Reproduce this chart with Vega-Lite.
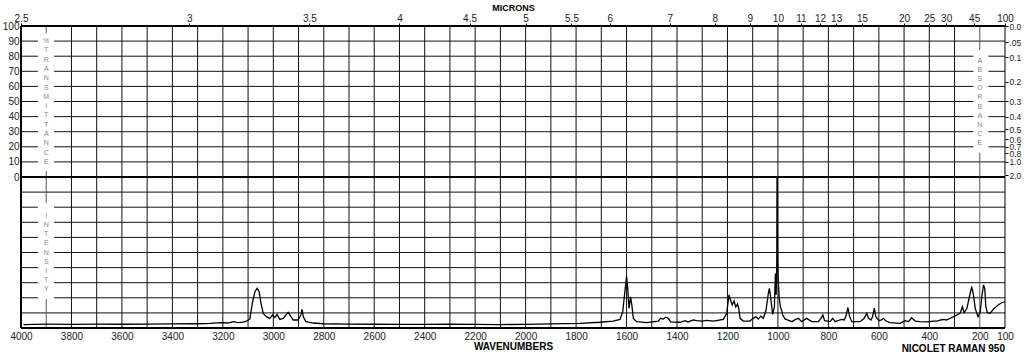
{
  "$schema": "https://vega.github.io/schema/vega-lite/v6.json",
  "width": 984,
  "height": 302,
  "autosize": {"type": "none"},
  "padding": {"left": 21, "top": 26, "right": 19, "bottom": 28},
  "config": {
    "view": {"stroke": null},
    "axis": {"labelFont": "Liberation Sans", "titleFont": "Liberation Sans", "labelColor": "#222", "titleColor": "#000"},
    "text": {"font": "Liberation Sans"},
    "title": {"font": "Liberation Sans"}
  },
  "title": {"text": "NICOLET RAMAN 950", "orient": "bottom", "anchor": "end", "frame": "group", "fontSize": 10, "fontWeight": "bold", "color": "#000", "offset": -7},
  "datasets": {
    "vgrid": [{"wn":3800},{"wn":3700},{"wn":3600},{"wn":3500},{"wn":3400},{"wn":3300},{"wn":3200},{"wn":3100},{"wn":3000},{"wn":2900},{"wn":2800},{"wn":2700},{"wn":2600},{"wn":2500},{"wn":2400},{"wn":2300},{"wn":2200},{"wn":2100},{"wn":2000},{"wn":1900},{"wn":1800},{"wn":1700},{"wn":1600},{"wn":1500},{"wn":1400},{"wn":1300},{"wn":1200},{"wn":1100},{"wn":1000},{"wn":900},{"wn":800},{"wn":700},{"wn":600},{"wn":500},{"wn":400},{"wn":300}],
    "hgrid": [{"v":90},{"v":80},{"v":70},{"v":60},{"v":50},{"v":40},{"v":30},{"v":20},{"v":10},{"v":-10},{"v":-20},{"v":-30},{"v":-40},{"v":-50},{"v":-60},{"v":-70},{"v":-80},{"v":-90}],
    "gaps": [
      {"wn1":3933,"wn2":3869,"v1":95.2,"v2":4},
      {"wn1":3933,"wn2":3869,"v1":-17.4,"v2":-80.8},
      {"wn1":225,"wn2":166,"v1":84.1,"v2":16.1}
    ],
    "segs": [
      {"wn":3900,"v1":100,"v2":95.2},
      {"wn":3900,"v1":4,"v2":-17.4},
      {"wn":3900,"v1":-80.8,"v2":-100},
      {"wn":200,"v1":100,"v2":84.1},
      {"wn":200,"v1":16.1,"v2":-100}
    ],
    "letters": [
      {"ch":"%","wn":3900,"v":90},{"ch":"T","wn":3900,"v":83.8},{"ch":"R","wn":3900,"v":77.7},{"ch":"A","wn":3900,"v":71.5},{"ch":"N","wn":3900,"v":65.4},{"ch":"S","wn":3900,"v":59.2},{"ch":"M","wn":3900,"v":53.1},{"ch":"I","wn":3900,"v":46.9},{"ch":"T","wn":3900,"v":40.8},{"ch":"T","wn":3900,"v":34.6},{"ch":"A","wn":3900,"v":28.5},{"ch":"N","wn":3900,"v":22.3},{"ch":"C","wn":3900,"v":16.2},{"ch":"E","wn":3900,"v":10},
      {"ch":"I","wn":3900,"v":-25.8},{"ch":"N","wn":3900,"v":-31.9},{"ch":"T","wn":3900,"v":-37.9},{"ch":"E","wn":3900,"v":-44},{"ch":"N","wn":3900,"v":-50},{"ch":"S","wn":3900,"v":-56.1},{"ch":"I","wn":3900,"v":-62.1},{"ch":"T","wn":3900,"v":-68.2},{"ch":"Y","wn":3900,"v":-74.2},
      {"ch":"A","wn":200,"v":76.8},{"ch":"B","wn":200,"v":70.8},{"ch":"S","wn":200,"v":64.7},{"ch":"O","wn":200,"v":58.7},{"ch":"R","wn":200,"v":52.7},{"ch":"B","wn":200,"v":46.6},{"ch":"A","wn":200,"v":40.6},{"ch":"N","wn":200,"v":34.6},{"ch":"C","wn":200,"v":28.5},{"ch":"E","wn":200,"v":22.5}
    ],
    "vthick": [{"wn":4000}],
    "vthin": [{"wn":100}],
    "hthick": [{"v":100},{"v":0},{"v":-100}],
    "spectrum": [
      {"wn":3990,"i":2.3},{"wn":3900,"i":2.5},{"wn":3800,"i":2.4},{"wn":3700,"i":2.6},{"wn":3600,"i":2.5},{"wn":3500,"i":2.6},{"wn":3400,"i":2.7},{"wn":3300,"i":2.8},{"wn":3250,"i":3.0},{"wn":3205,"i":3.5},{"wn":3180,"i":3.3},{"wn":3159,"i":4.2},{"wn":3140,"i":3.6},{"wn":3120,"i":3.9},{"wn":3106,"i":4.5},{"wn":3093,"i":6},{"wn":3083,"i":16.4},{"wn":3073,"i":24},{"wn":3064,"i":26.3},{"wn":3056,"i":24},{"wn":3050,"i":17.4},{"wn":3040,"i":9.7},{"wn":3027,"i":7.5},{"wn":3014,"i":6.4},{"wn":3003,"i":8.6},{"wn":2994,"i":7},{"wn":2985,"i":9},{"wn":2974,"i":5.7},{"wn":2961,"i":6.4},{"wn":2950,"i":8.6},{"wn":2941,"i":10.4},{"wn":2932,"i":8},{"wn":2921,"i":5.3},{"wn":2902,"i":5.3},{"wn":2891,"i":8.6},{"wn":2886,"i":12.4},{"wn":2881,"i":7.5},{"wn":2871,"i":4.2},{"wn":2842,"i":3.3},{"wn":2800,"i":2.8},{"wn":2700,"i":2.6},{"wn":2600,"i":2.5},{"wn":2500,"i":2.4},{"wn":2400,"i":2.4},{"wn":2300,"i":2.5},{"wn":2200,"i":2.4},{"wn":2100,"i":2.3},{"wn":2000,"i":2.4},{"wn":1900,"i":2.7},{"wn":1785,"i":3.1},{"wn":1706,"i":3.8},{"wn":1653,"i":4.6},{"wn":1626,"i":5.7},{"wn":1615,"i":10.8},{"wn":1606,"i":25},{"wn":1600,"i":34},{"wn":1596,"i":27.4},{"wn":1590,"i":13},{"wn":1584,"i":20.7},{"wn":1579,"i":15.2},{"wn":1573,"i":6.4},{"wn":1560,"i":4.2},{"wn":1520,"i":3.5},{"wn":1474,"i":4.6},{"wn":1465,"i":6.4},{"wn":1455,"i":5.9},{"wn":1444,"i":7.1},{"wn":1435,"i":6.4},{"wn":1425,"i":4},{"wn":1388,"i":3.8},{"wn":1368,"i":4.9},{"wn":1356,"i":4},{"wn":1335,"i":5.3},{"wn":1322,"i":4.9},{"wn":1302,"i":4.6},{"wn":1282,"i":5},{"wn":1256,"i":4.6},{"wn":1216,"i":5.7},{"wn":1203,"i":9.7},{"wn":1194,"i":21.9},{"wn":1188,"i":18.5},{"wn":1181,"i":15.2},{"wn":1174,"i":17.9},{"wn":1167,"i":14},{"wn":1160,"i":15.9},{"wn":1155,"i":12.6},{"wn":1150,"i":6.4},{"wn":1137,"i":4.6},{"wn":1111,"i":4.6},{"wn":1098,"i":6.4},{"wn":1087,"i":7.5},{"wn":1078,"i":5.9},{"wn":1068,"i":7.9},{"wn":1058,"i":6.4},{"wn":1047,"i":11.9},{"wn":1038,"i":23},{"wn":1034,"i":26.3},{"wn":1030,"i":22},{"wn":1021,"i":9},{"wn":1014,"i":14},{"wn":1010,"i":36},{"wn":1007,"i":22},{"wn":1004.5,"i":45},{"wn":1003.6,"i":100},{"wn":1002.9,"i":54},{"wn":1002.2,"i":100},{"wn":1001.2,"i":50},{"wn":999,"i":33},{"wn":995,"i":20},{"wn":990,"i":14},{"wn":986,"i":12},{"wn":981,"i":8.6},{"wn":972,"i":6},{"wn":965,"i":5.5},{"wn":945,"i":4.2},{"wn":932,"i":5.5},{"wn":919,"i":6.4},{"wn":906,"i":4.2},{"wn":886,"i":6.4},{"wn":866,"i":4.2},{"wn":840,"i":4.2},{"wn":829,"i":6.4},{"wn":822,"i":8.6},{"wn":815,"i":4.9},{"wn":793,"i":4.2},{"wn":783,"i":6.4},{"wn":773,"i":4.2},{"wn":756,"i":5.3},{"wn":747,"i":5.7},{"wn":737,"i":5.3},{"wn":729,"i":8.6},{"wn":723,"i":13.7},{"wn":716,"i":7.5},{"wn":707,"i":4.2},{"wn":674,"i":4.2},{"wn":658,"i":6.4},{"wn":648,"i":9.7},{"wn":641,"i":6.4},{"wn":631,"i":5.3},{"wn":625,"i":7.5},{"wn":618,"i":13.2},{"wn":612,"i":7.5},{"wn":600,"i":4.9},{"wn":589,"i":5.3},{"wn":582,"i":6.4},{"wn":572,"i":4.6},{"wn":556,"i":3.5},{"wn":516,"i":3.1},{"wn":496,"i":4.9},{"wn":483,"i":4.2},{"wn":470,"i":6.8},{"wn":456,"i":4.6},{"wn":437,"i":4.2},{"wn":410,"i":4},{"wn":384,"i":4.6},{"wn":369,"i":4.5},{"wn":355,"i":5.3},{"wn":342,"i":5.7},{"wn":332,"i":5.3},{"wn":304,"i":7.5},{"wn":291,"i":8.6},{"wn":278,"i":9.7},{"wn":269,"i":14.1},{"wn":262,"i":10.1},{"wn":251,"i":13},{"wn":241,"i":20.7},{"wn":232,"i":27.4},{"wn":225,"i":21.9},{"wn":218,"i":13},{"wn":207,"i":7.5},{"wn":198,"i":10.8},{"wn":192,"i":20.7},{"wn":185,"i":28.5},{"wn":180,"i":26},{"wn":176,"i":14.1},{"wn":170,"i":10.1},{"wn":159,"i":9.7},{"wn":146,"i":12.4},{"wn":132,"i":14.6},{"wn":117,"i":16.4},{"wn":100,"i":17.4}
    ]
  },
  "layer": [
    {
      "layer": [
        {
          "data": {"name": "hgrid"},
          "mark": {"type": "rule", "stroke": "#111", "strokeWidth": 1},
          "encoding": {
            "y": {"field": "v", "type": "quantitative", "scale": {"domain": [-100, 100], "nice": false, "zero": false},
              "axis": {"orient": "right", "title": null, "grid": false, "domain": false,
                "values": [100, 89.125, 79.433, 63.096, 50.119, 39.811, 31.623, 25.119, 19.953, 15.849, 10, 1],
                "labelExpr": "datum.value > 99 ? '0.0' : (datum.value > 85 ? '.05' : format(-log(datum.value/100)/LN10, '.1f'))",
                "tickSize": 3, "tickColor": "#000", "labelPadding": 1, "labelFontSize": 8.5, "labelOverlap": false, "labelBound": false, "labelFlush": false}}
          }
        },
        {
          "data": {"name": "vgrid"},
          "mark": {"type": "rule", "stroke": "#111", "strokeWidth": 1},
          "encoding": {
            "x": {"field": "wn", "type": "quantitative", "scale": {"domain": [100, 4000], "reverse": true, "nice": false, "zero": false},
              "axis": {"orient": "bottom", "title": "WAVENUMBERS", "titleFontSize": 10, "titleFontWeight": "bold", "titlePadding": 0,
                "grid": false, "domain": false, "ticks": false, "labelPadding": 3, "labelFontSize": 10, "format": "d",
                "values": [4000, 3800, 3600, 3400, 3200, 3000, 2800, 2600, 2400, 2200, 2000, 1800, 1600, 1400, 1200, 1000, 800, 600, 400, 200, 100],
                "labelOverlap": false, "labelFlush": false, "labelBound": false}}
          }
        },
        {
          "data": {"name": "gaps"},
          "mark": {"type": "rect", "fill": "#ffffff"},
          "encoding": {
            "x": {"field": "wn1", "type": "quantitative", "scale": {"domain": [100, 4000], "reverse": true, "nice": false, "zero": false}, "axis": null},
            "x2": {"field": "wn2"},
            "y": {"field": "v1", "type": "quantitative", "scale": {"domain": [-100, 100], "nice": false, "zero": false}, "axis": null},
            "y2": {"field": "v2"}
          }
        },
        {
          "data": {"name": "segs"},
          "mark": {"type": "rule", "stroke": "#555", "strokeWidth": 1},
          "encoding": {
            "x": {"field": "wn", "type": "quantitative", "scale": {"domain": [100, 4000], "reverse": true, "nice": false, "zero": false}, "axis": null},
            "y": {"field": "v1", "type": "quantitative", "scale": {"domain": [-100, 100], "nice": false, "zero": false}, "axis": null},
            "y2": {"field": "v2"}
          }
        },
        {
          "data": {"name": "letters"},
          "mark": {"type": "text", "fontSize": 7, "fill": "#888", "align": "center", "baseline": "middle"},
          "encoding": {
            "x": {"field": "wn", "type": "quantitative", "scale": {"domain": [100, 4000], "reverse": true, "nice": false, "zero": false}, "axis": null},
            "y": {"field": "v", "type": "quantitative", "scale": {"domain": [-100, 100], "nice": false, "zero": false}, "axis": null},
            "text": {"field": "ch"}
          }
        },
        {
          "data": {"name": "vthick"},
          "mark": {"type": "rule", "stroke": "#000", "strokeWidth": 2},
          "encoding": {
            "x": {"field": "wn", "type": "quantitative", "scale": {"domain": [100, 4000], "reverse": true, "nice": false, "zero": false},
              "axis": {"orient": "top", "title": "MICRONS", "titleFontSize": 9, "titleFontWeight": "bold", "titlePadding": 1,
                "grid": false, "domain": false, "tickSize": 3, "tickColor": "#000", "labelPadding": 0, "labelFontSize": 10,
                "values": [4000, 3333.3333, 2857.1429, 2500, 2222.2222, 2000, 1818.1818, 1666.6667, 1428.5714, 1250, 1111.1111, 1000, 909.0909, 833.3333, 769.2308, 666.6667, 500, 400, 333.3333, 222.2222, 100],
                "labelExpr": "'' + round(100000/datum.value)/10",
                "labelOverlap": false, "labelFlush": false, "labelBound": false}}
          }
        },
        {
          "data": {"name": "vthin"},
          "mark": {"type": "rule", "stroke": "#000", "strokeWidth": 1},
          "encoding": {
            "x": {"field": "wn", "type": "quantitative", "scale": {"domain": [100, 4000], "reverse": true, "nice": false, "zero": false}, "axis": null}
          }
        },
        {
          "data": {"name": "hthick"},
          "mark": {"type": "rule", "stroke": "#000", "strokeWidth": 2},
          "encoding": {
            "y": {"field": "v", "type": "quantitative", "scale": {"domain": [-100, 100], "nice": false, "zero": false},
              "axis": {"orient": "left", "title": null, "grid": false, "domain": false, "ticks": false, "labelPadding": 2, "labelFontSize": 10,
                "values": [0, 10, 20, 30, 40, 50, 60, 70, 80, 90, 100], "format": "d", "labelOverlap": false, "labelBound": false, "labelFlush": false}}
          }
        }
      ],
      "resolve": {"axis": {"x": "independent", "y": "independent"}}
    },
    {
      "data": {"name": "spectrum"},
      "mark": {"type": "line", "stroke": "#000", "strokeWidth": 1.3, "interpolate": "linear"},
      "encoding": {
        "x": {"field": "wn", "type": "quantitative", "scale": {"domain": [100, 4000], "reverse": true, "nice": false, "zero": false}, "axis": null},
        "y": {"field": "i", "type": "quantitative", "scale": {"domain": [0, 200], "nice": false, "zero": false}, "axis": null}
      }
    }
  ],
  "resolve": {"scale": {"y": "independent"}, "axis": {"x": "independent", "y": "independent"}}
}
